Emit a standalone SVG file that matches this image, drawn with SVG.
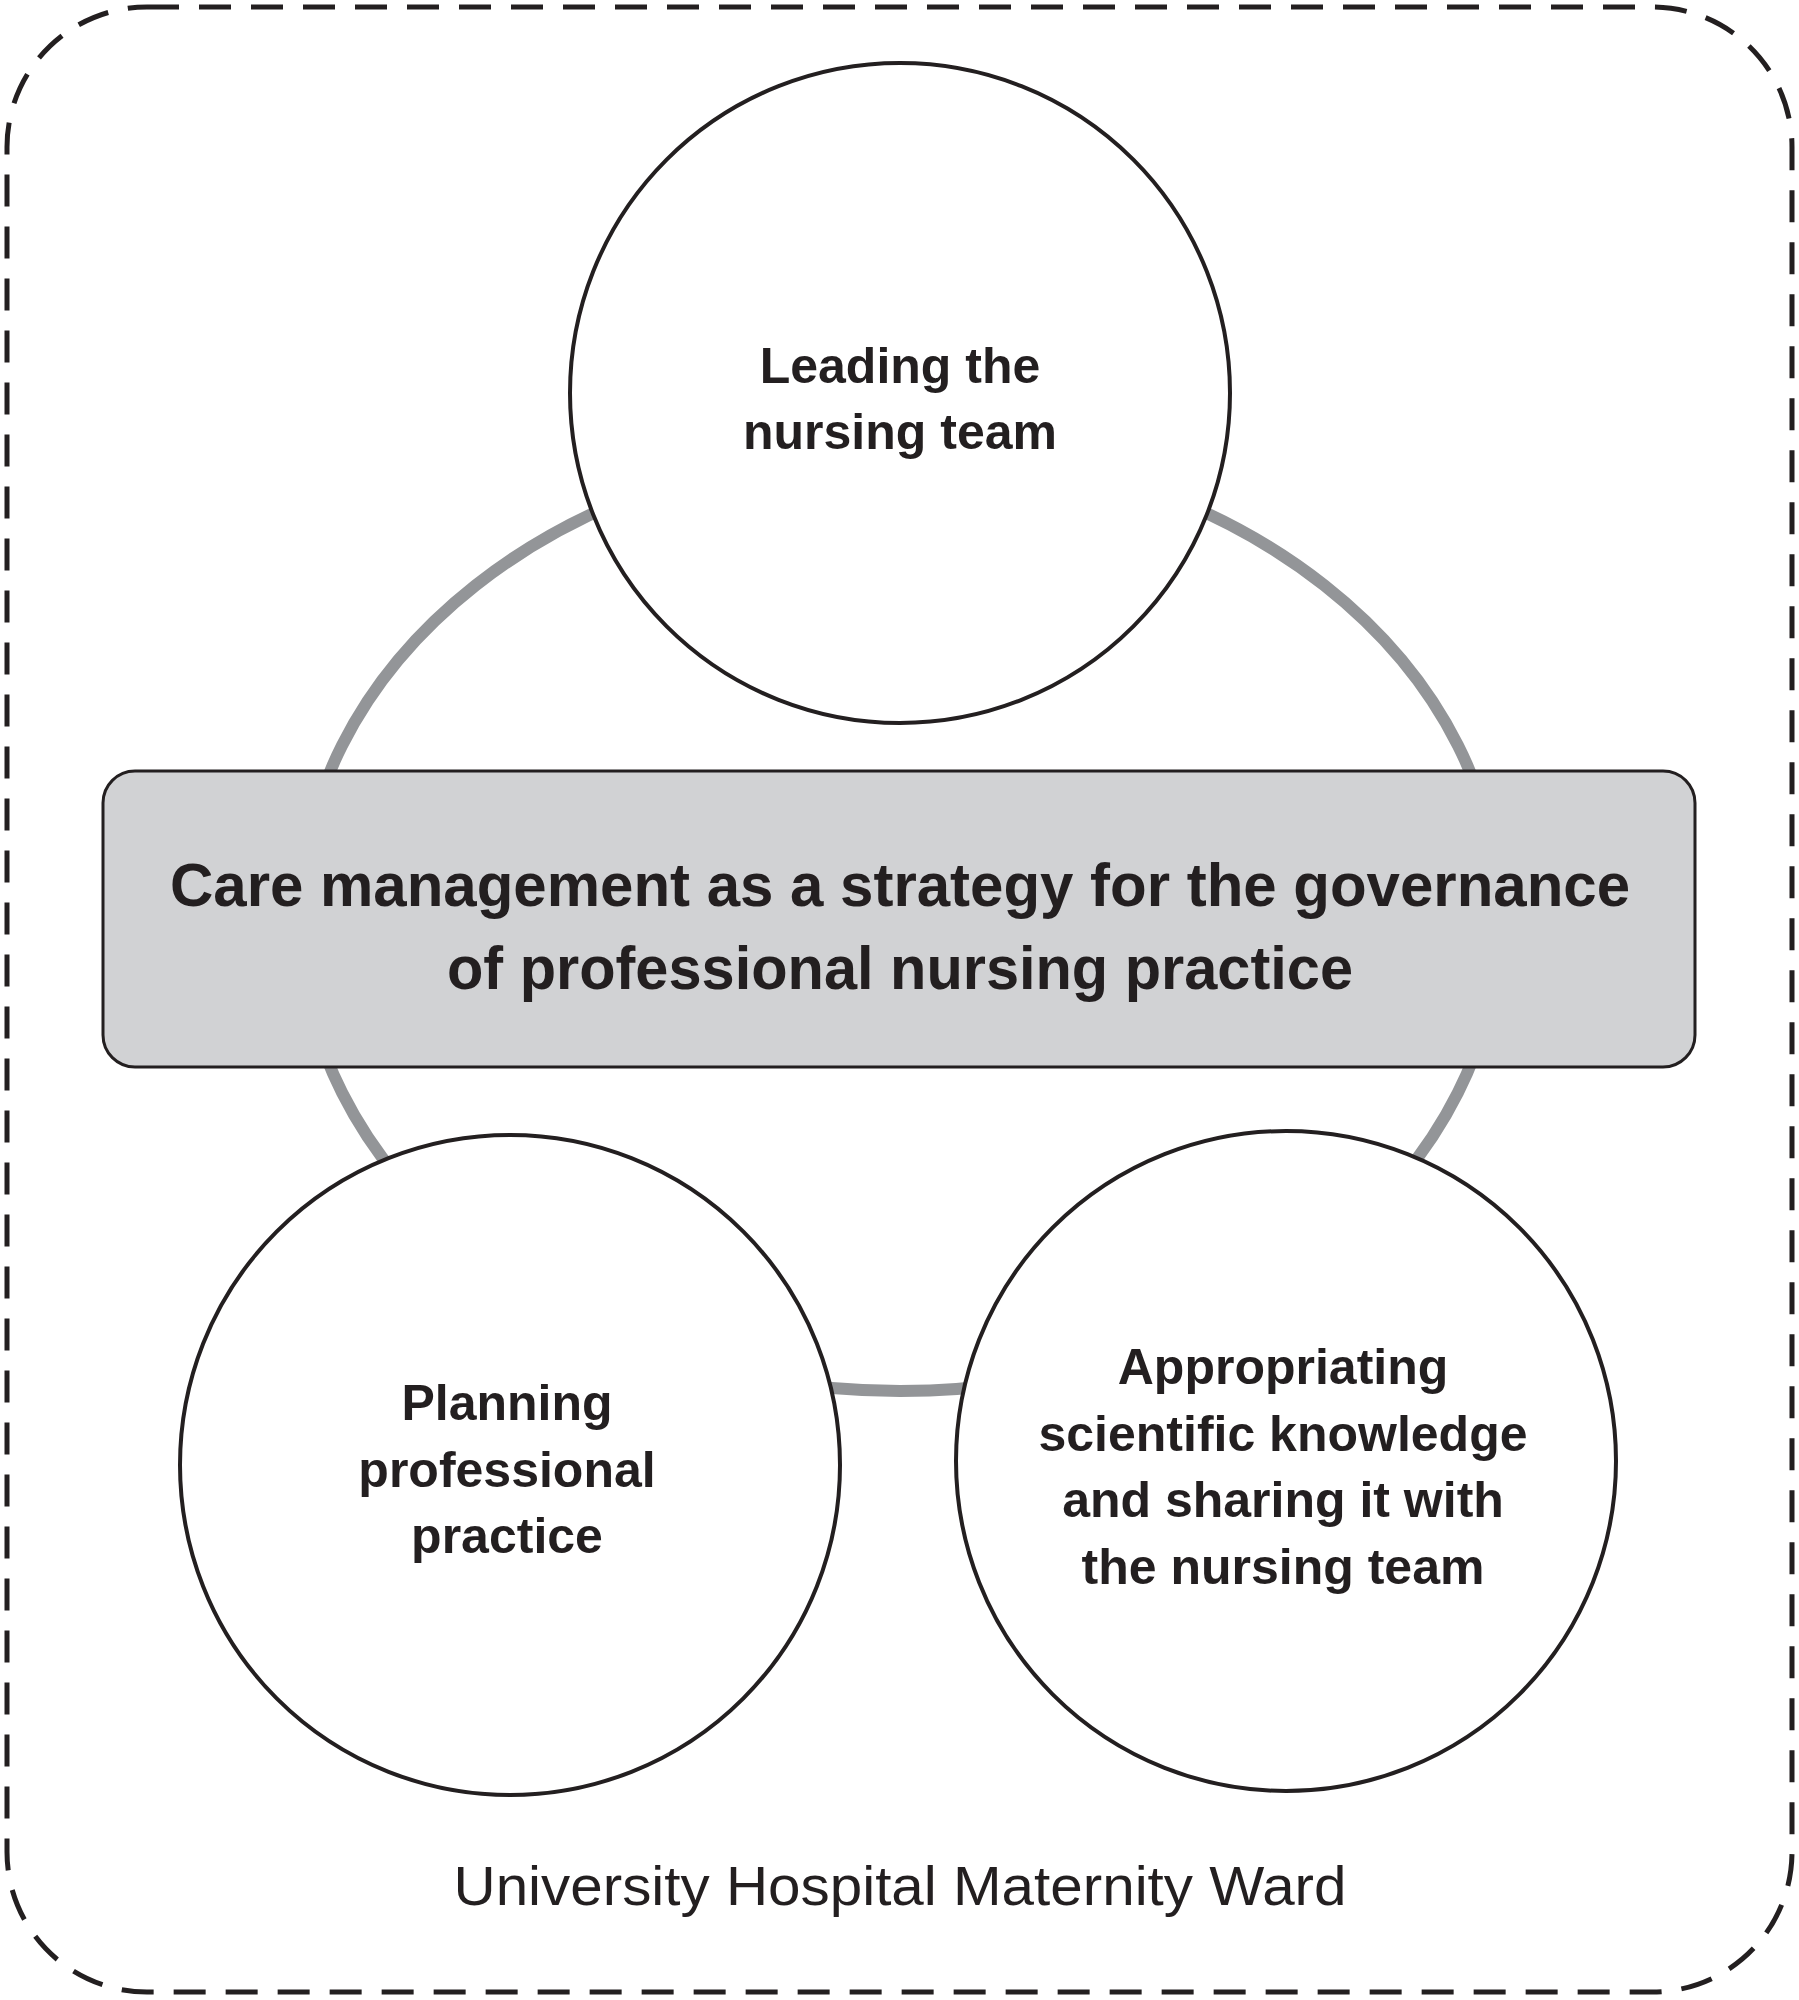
<svg xmlns="http://www.w3.org/2000/svg" width="1799" height="2000" viewBox="0 0 1799 2000">
<style>
.c{fill:#fff;stroke:#231f20;stroke-width:4}
.t{font-family:"Liberation Sans",Arial,sans-serif;font-weight:bold;fill:#231f20;text-anchor:middle}
</style>
<rect x="0" y="0" width="1799" height="2000" fill="#fff"/>
<rect x="7" y="7" width="1785" height="1985" rx="140" fill="none" stroke="#231f20" stroke-width="5" stroke-dasharray="32 20"/>
<g id="connectors">
<ellipse cx="900" cy="919" rx="600" ry="472" fill="none" stroke="#939598" stroke-width="12"/>
</g>
<g id="top"><circle class="c" cx="900" cy="393" r="330"/>
<text class="t" font-size="50" x="900" y="383">Leading the</text>
<text class="t" font-size="50" x="900" y="449">nursing team</text></g>
<g id="left"><circle class="c" cx="510" cy="1465" r="330"/>
<text class="t" font-size="50" x="507" y="1420">Planning</text>
<text class="t" font-size="50" x="507" y="1487">professional</text>
<text class="t" font-size="50" x="507" y="1553">practice</text></g>
<g id="right"><circle class="c" cx="1286" cy="1461" r="330"/>
<text class="t" font-size="50" x="1283" y="1384">Appropriating</text>
<text class="t" font-size="50" x="1283" y="1451">scientific knowledge</text>
<text class="t" font-size="50" x="1283" y="1517">and sharing it with</text>
<text class="t" font-size="50" x="1283" y="1584">the nursing team</text></g>
<g id="center"><rect x="103" y="771" width="1592" height="296" rx="32" fill="#d1d2d4" stroke="#231f20" stroke-width="3"/>
<text class="t" font-size="62" x="900" y="906" textLength="1460" lengthAdjust="spacingAndGlyphs">Care management as a strategy for the governance</text>
<text class="t" font-size="62" x="900" y="989" textLength="906" lengthAdjust="spacingAndGlyphs">of professional nursing practice</text></g>
<text x="900" y="1905" font-family="'Liberation Sans',Arial,sans-serif" font-size="56" fill="#231f20" text-anchor="middle" textLength="893" lengthAdjust="spacingAndGlyphs">University Hospital Maternity Ward</text>
</svg>
